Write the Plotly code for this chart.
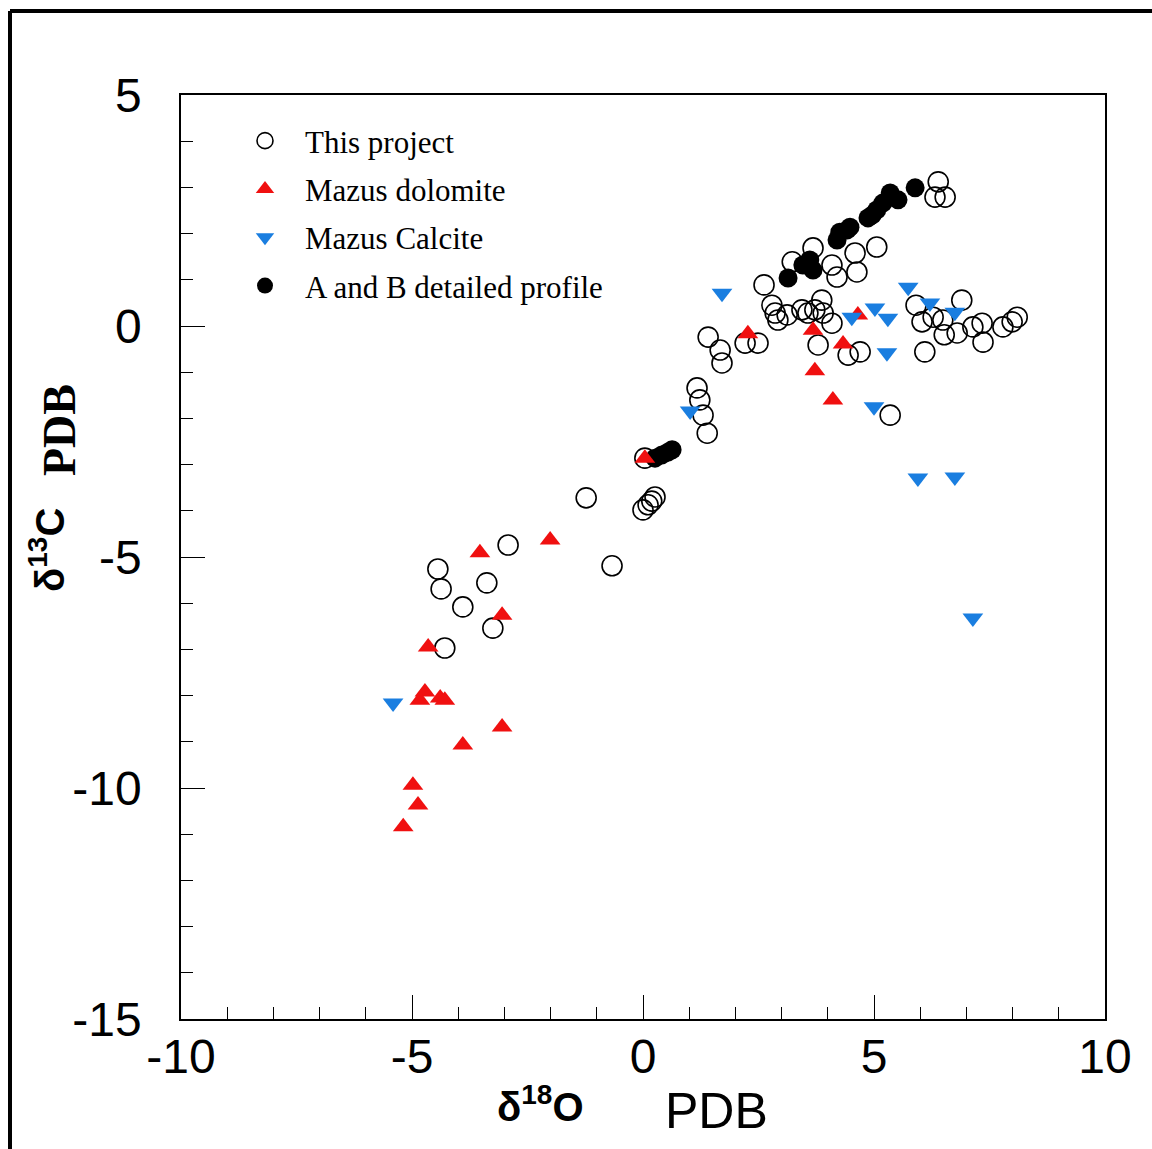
import plotly.graph_objects as go

# δ18O / δ13C (‰ PDB) measurements
project_d18o = [-4.44, -4.37, -4.29, -3.90, -3.38, -3.25, -2.92, -1.23, -0.67,
                0.00, 0.11, 0.19, 0.26, 0.04, 1.17, 1.23, 1.30, 1.39, 1.41, 1.67,
                1.71, 2.21, 2.49, 2.62, 2.79, 2.86, 2.92, 3.12, 3.44, 3.57, 3.72,
                3.87, 3.90, 4.09, 3.23, 3.68, 4.09, 4.20, 3.79, 4.59, 4.63, 5.06,
                4.44, 4.70, 5.35, 5.91, 6.04, 6.28, 6.49, 6.52, 6.80, 6.90, 7.14,
                7.34, 7.36, 7.79, 7.99, 8.10, 6.10, 6.39, 6.32, 6.54]
project_d13c = [-5.26, -5.69, -6.97, -6.08, -5.56, -6.54, -4.74, -3.72, -5.19,
                -3.98, -3.87, -3.79, -3.70, -2.86, -1.34, -1.60, -1.93, -2.32, -0.24, -0.52,
                -0.80, -0.37, -0.37, 0.89, 0.45, 0.28, 0.13, 0.24, 0.35, 0.28, 0.35,
                0.56, 0.28, 0.06, 1.39, 1.69, 1.32, 1.06, -0.41, 1.58, 1.17, 1.71,
                -0.63, -0.56, -1.93, 0.45, 0.09, 0.19, 0.13, -0.19, -0.15, 0.56, -0.02,
                0.06, -0.35, -0.02, 0.09, 0.19, -0.56, 3.12, 2.79, 2.79]

dolomite_d18o = [-3.53, -2.01, -3.05, -4.65, -4.72, -4.83, -4.39, -4.29, -3.05,
                 -3.90, -4.98, -4.87, -5.19, 0.04, 2.27, 3.68, 3.72, 4.33, 4.11, 4.65]
dolomite_d13c = [-4.91, -4.63, -6.26, -6.95, -7.92, -8.10, -8.05, -8.10, -8.68,
                 -9.07, -9.94, -10.37, -10.84, -2.86, -0.17, -0.09, -0.97, -0.39, -1.60, 0.24]

calcite_d18o = [-5.41, 1.02, 1.71, 4.52, 5.02, 5.30, 5.28, 5.00, 5.74, 6.21, 6.75,
                5.95, 6.75, 7.14]
calcite_d13c = [-8.16, -1.84, 0.71, 0.19, 0.39, 0.17, -0.58, -1.75, 0.84, 0.50, 0.30,
                -3.29, -3.27, -6.32]

profile_d18o = [0.26, 0.41, 0.54, 0.63, 3.14, 3.46, 3.61, 3.68, 4.20, 4.26, 4.42,
                4.48, 4.87, 4.96, 5.06, 5.19, 5.35, 5.52, 5.89]
profile_d13c = [-2.86, -2.79, -2.73, -2.68, 1.04, 1.32, 1.43, 1.21, 1.86, 2.03, 2.08,
                2.14, 2.34, 2.40, 2.51, 2.66, 2.88, 2.73, 2.99]

series_names = ["This project", "Mazus dolomite", "Mazus Calcite", "A and B detailed profile"]

x_ticks = [-10, -5, 0, 5, 10]
y_ticks = [-15, -10, -5, 0, 5]

RED = "#f01010"
BLUE = "#1a7ee0"
SANS = "Arial, Liberation Sans, sans-serif"
SERIF = "Times New Roman, Liberation Serif, serif"

fig = go.Figure()
fig.add_trace(go.Scatter(
    x=project_d18o, y=project_d13c, mode="markers", name=series_names[0],
    legendrank=1, legendgroup="a",
    marker=dict(symbol="circle-open", size=20, color="black", line=dict(width=1.6))))
fig.add_trace(go.Scatter(
    x=profile_d18o, y=profile_d13c, mode="markers", name=series_names[3],
    legendrank=4, legendgroup="d",
    marker=dict(symbol="circle", size=19, color="black")))
fig.add_trace(go.Scatter(
    x=dolomite_d18o, y=dolomite_d13c, mode="markers", name=series_names[1],
    legendrank=2, legendgroup="b",
    marker=dict(symbol="triangle-up", size=18, color=RED)))
fig.add_trace(go.Scatter(
    x=calcite_d18o, y=calcite_d13c, mode="markers", name=series_names[2],
    legendrank=3, legendgroup="c",
    marker=dict(symbol="triangle-down", size=18, color=BLUE)))

axis_common = dict(
    showline=True, linecolor="black", linewidth=1.5, mirror=True,
    ticks="inside", tickcolor="black", tickwidth=1.3, ticklen=24,
    showgrid=False, zeroline=False,
    tickfont=dict(family=SANS, size=48, color="black"),
)

fig.update_xaxes(
    range=[-10, 10], tickvals=x_ticks, ticktext=[str(v) for v in x_ticks],
    minor=dict(dtick=1, ticks="inside", ticklen=12, tickcolor="black", tickwidth=1.3),
    ticklabelstandoff=-5,
    **axis_common)
fig.update_yaxes(
    range=[-15, 5], tickvals=y_ticks, ticktext=[str(v) for v in y_ticks],
    minor=dict(dtick=1, ticks="inside", ticklen=12, tickcolor="black", tickwidth=1.3),
    ticklabelstandoff=28,
    **axis_common)


def px_x(px):
    """Horizontal page pixel -> paper fraction of the plot area."""
    return (px - 181) / 924


def px_y(py):
    """Vertical page pixel -> paper fraction of the plot area."""
    return (1019 - py) / 924


# axis titles
fig.add_annotation(text="<b>δ<sup>18</sup>O</b>", xref="paper", yref="paper",
                   x=px_x(540), y=px_y(1104), xanchor="center", yanchor="middle",
                   showarrow=False, font=dict(family=SANS, size=40, color="black"))
fig.add_annotation(text="PDB", xref="paper", yref="paper",
                   x=px_x(716), y=px_y(1111), xanchor="center", yanchor="middle",
                   showarrow=False, font=dict(family=SANS, size=50, color="black"))
fig.add_annotation(text="<b>δ<sup>13</sup>C</b>", xref="paper", yref="paper",
                   x=px_x(47), y=px_y(550), xanchor="center", yanchor="middle",
                   showarrow=False, textangle=-90,
                   font=dict(family=SANS, size=40, color="black"))
fig.add_annotation(text="<b>PDB</b>", xref="paper", yref="paper",
                   x=px_x(60), y=px_y(430), xanchor="center", yanchor="middle",
                   showarrow=False, textangle=-90,
                   font=dict(family=SERIF, size=46, color="black"))

# outer frame (left and top edges)
fig.add_shape(type="line", xref="paper", yref="paper",
              x0=px_x(10), x1=px_x(10), y0=px_y(11), y1=px_y(1160),
              line=dict(color="black", width=4))
fig.add_shape(type="line", xref="paper", yref="paper",
              x0=px_x(10), x1=px_x(1160), y0=px_y(11), y1=px_y(11),
              line=dict(color="black", width=4))

fig.update_layout(
    width=1152, height=1149,
    margin=dict(l=181, r=47, t=95, b=130),
    paper_bgcolor="white", plot_bgcolor="white",
    showlegend=True,
    legend=dict(
        x=px_x(225), y=px_y(114), xanchor="left", yanchor="top",
        bgcolor="rgba(0,0,0,0)", borderwidth=0,
        font=dict(family=SERIF, size=31, color="black"),
        traceorder="grouped", tracegroupgap=5, itemwidth=70,
    ),
)

fig.write_html("out.html")
